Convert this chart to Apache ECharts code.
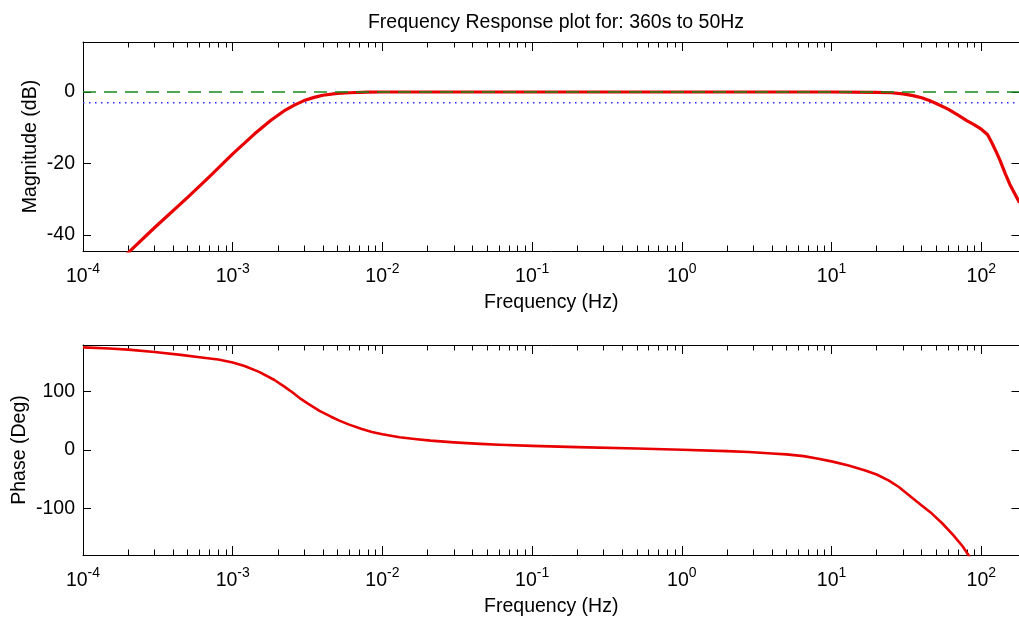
<!DOCTYPE html>
<html>
<head>
<meta charset="utf-8">
<script src="https://cdn.jsdelivr.net/npm/echarts@6/dist/echarts.min.js"></script>
<style>html,body{margin:0;padding:0;background:#fff;}#c{width:1019px;height:617px;}</style>
</head>
<body>
<div id="c"></div>
<script>
// ---- data ----
const titleText = 'Frequency Response plot for: 360s to 50Hz';
const freqRange = [1e-4, 180];
const magFreq = [1.5e-4, 2e-4, 3e-4, 5e-4, 7e-4, 1e-3, 1.4e-3, 1.8e-3, 2.2e-3, 2.6e-3, 3e-3, 3.5e-3, 4e-3, 5e-3, 6e-3, 8e-3, 1e-2, 0.1, 1, 10, 20, 25, 30, 35, 40, 45, 50, 60, 70, 80, 90, 100, 110, 117, 125, 133, 145, 155, 165, 176, 180];
const magDb   = [-50, -45, -38, -29.5, -23.7, -17.3, -11.7, -7.9, -5.3, -3.6, -2.4, -1.5, -0.9, -0.4, -0.2, -0.05, 0, 0, 0, 0, -0.1, -0.2, -0.5, -1.0, -1.6, -2.4, -3.2, -4.8, -6.5, -8.0, -9.2, -10.4, -11.9, -14, -16.5, -19, -23, -25.8, -28, -30.2, -31];
const phaseFreq = [1e-4, 1.5e-4, 2e-4, 3e-4, 4.5e-4, 6e-4, 8e-4, 1e-3, 1.2e-3, 1.5e-3, 1.9e-3, 2.2e-3, 2.5e-3, 2.8e-3, 3.2e-3, 3.8e-3, 4.5e-3, 5.2e-3, 6e-3, 7.2e-3, 8.5e-3, 1e-2, 1.3e-2, 1.7e-2, 2.1e-2, 3e-2, 4.5e-2, 6e-2, 0.1, 0.2, 0.5, 1, 2, 2.8, 4, 5, 6.5, 8, 10, 13, 16.8, 20, 24, 28, 35, 40, 46.8, 55, 65, 75, 82, 90];
const phaseDeg  = [176, 174, 172, 168, 163, 159, 155, 150, 144, 134, 120, 109, 99, 89, 79, 67, 57.5, 50, 43.5, 36.5, 31, 27, 22, 18.5, 16, 13, 10.5, 9, 7, 5, 2.5, 0.5, -2, -3.5, -6, -7.5, -10.5, -14.5, -19.5, -26.5, -35, -42, -52, -63, -83, -95, -109, -126, -146, -165, -180, -195];
const passbandLevel = 0;   // dB, green dashed
const cutoffLevel = -3;    // dB, blue dotted
const magRange = [-44.5, 14];
const phaseRange = [-180, 180];
const decadeTicks = [1e-4, 1e-3, 1e-2, 1e-1, 1, 10, 100];
const magTicks = [-40, -20, 0];
const phaseTicks = [-100, 0, 100];

const minorTicks = [];
decadeTicks.forEach(d => { for (let k = 2; k <= 9; k++) { const v = k * d; if (v <= freqRange[1]) minorTicks.push(v); } });

const FONT = '"Liberation Sans", Arial, Helvetica, sans-serif';
const BLACK = '#000';
const FS = 19.5;

function xAxesFor(gi) {
  const base = { type: 'log', logBase: 10, gridIndex: gi, min: freqRange[0], max: freqRange[1], splitLine: { show: false }, minorTick: { show: false } };
  return [
    Object.assign({}, base, {
      position: 'bottom',
      axisLine: { show: true, onZero: false, lineStyle: { color: BLACK, width: 1 } },
      axisTick: { show: true, inside: true, length: 9, lineStyle: { color: BLACK }, customValues: decadeTicks },
      axisLabel: {
        show: true, margin: 15, customValues: decadeTicks,
        formatter: v => '{b|10}{s|' + Math.round(Math.log10(v)) + '}',
        rich: {
          b: { fontSize: FS, fontFamily: FONT, color: BLACK, verticalAlign: 'bottom', lineHeight: 21 },
          s: { fontSize: 14, fontFamily: FONT, color: BLACK, verticalAlign: 'bottom', lineHeight: 14, padding: [0, 0, 11, 0] }
        }
      },
      name: 'Frequency (Hz)', nameLocation: 'middle', nameGap: 42, nameMoveOverlap: false,
      nameTextStyle: { fontSize: FS, fontFamily: FONT, color: BLACK }
    }),
    Object.assign({}, base, {
      position: 'bottom',
      axisLine: { show: false, onZero: false },
      axisTick: { show: true, inside: true, length: 5.5, lineStyle: { color: BLACK }, customValues: minorTicks },
      axisLabel: { show: false }
    }),
    Object.assign({}, base, {
      position: 'top',
      axisLine: { show: true, onZero: false, lineStyle: { color: BLACK, width: 1 } },
      axisTick: { show: true, inside: true, length: 9, lineStyle: { color: BLACK }, customValues: decadeTicks },
      axisLabel: { show: false }
    }),
    Object.assign({}, base, {
      position: 'top',
      axisLine: { show: false, onZero: false },
      axisTick: { show: true, inside: true, length: 5.5, lineStyle: { color: BLACK }, customValues: minorTicks },
      axisLabel: { show: false }
    })
  ];
}

function yAxesFor(gi, range, ticks, name, gap) {
  const base = { type: 'value', gridIndex: gi, min: range[0], max: range[1], splitLine: { show: false } };
  return [
    Object.assign({}, base, {
      position: 'left',
      axisLine: { show: true, onZero: false, lineStyle: { color: BLACK, width: 1 } },
      axisTick: { show: true, inside: true, length: 8, lineStyle: { color: BLACK }, customValues: ticks },
      axisLabel: { show: true, customValues: ticks, fontSize: FS, fontFamily: FONT, color: BLACK, margin: 8 },
      name: name, nameLocation: 'middle', nameGap: gap, nameMoveOverlap: false,
      nameTextStyle: { fontSize: FS, fontFamily: FONT, color: BLACK }
    }),
    Object.assign({}, base, {
      position: 'right',
      axisLine: { show: true, onZero: false, lineStyle: { color: BLACK, width: 1 } },
      axisTick: { show: true, inside: true, length: 8, lineStyle: { color: BLACK }, customValues: ticks },
      axisLabel: { show: false }
    })
  ];
}

const zip = (a, b) => a.map((v, i) => [v, b[i]]);

const chart = echarts.init(document.getElementById('c'), null, { renderer: 'canvas' });
chart.setOption({
  backgroundColor: '#fff',
  animation: false,
  title: {
    text: titleText, left: 551, top: 8, textAlign: 'center',
    textStyle: { fontSize: FS, fontWeight: 'normal', fontFamily: FONT, color: BLACK }
  },
  grid: [
    { left: 83, top: 42, width: 936.5, height: 209, containLabel: false, outerBoundsMode: 'none' },
    { left: 83, top: 345, width: 936.5, height: 210, containLabel: false, outerBoundsMode: 'none' }
  ],
  xAxis: xAxesFor(0).concat(xAxesFor(1)),
  yAxis: yAxesFor(0, magRange, magTicks, 'Magnitude (dB)', 42).concat(yAxesFor(1, phaseRange, phaseTicks, 'Phase (Deg)', 53)),
  series: [
    {
      type: 'line', xAxisIndex: 0, yAxisIndex: 0, symbol: 'none', silent: true,
      data: freqRange.map(f => [f, cutoffLevel]),
      lineStyle: { color: '#2a2aff', width: 1.3, type: [1.5, 4.5] }, z: 2
    },
    {
      type: 'line', xAxisIndex: 0, yAxisIndex: 0, symbol: 'none', silent: true, clip: true,
      smooth: false,
      data: zip(magFreq, magDb),
      lineStyle: { color: '#e80000', width: 3.2, join: 'round' }, z: 3
    },
    {
      type: 'line', xAxisIndex: 0, yAxisIndex: 0, symbol: 'none', silent: true,
      data: freqRange.map(f => [f, passbandLevel]),
      lineStyle: { color: '#1a8a1a', width: 1.5, type: [13, 8] }, z: 4
    },
    {
      type: 'line', xAxisIndex: 4, yAxisIndex: 2, symbol: 'none', silent: true, clip: true,
      smooth: false,
      data: zip(phaseFreq, phaseDeg),
      lineStyle: { color: '#e80000', width: 2.6, join: 'round' }, z: 3
    }
  ]
});
</script>
</body>
</html>
